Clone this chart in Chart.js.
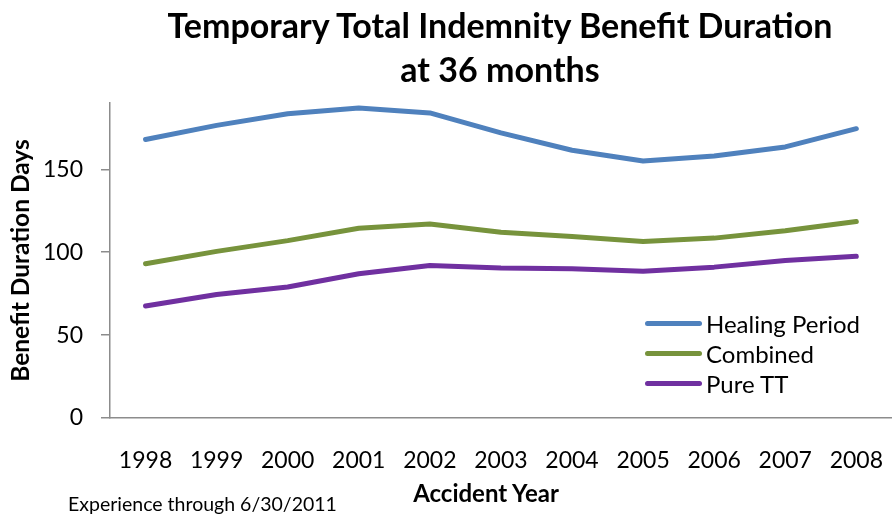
<!DOCTYPE html>
<html>
<head>
<meta charset="utf-8">
<script src="https://cdn.jsdelivr.net/npm/chart.js@4.4.1/dist/chart.umd.min.js"></script>
<style>
  html, body { margin: 0; padding: 0; background: #fff; }
  #wrap { position: relative; width: 896px; height: 515px; overflow: hidden; font-family: Lato, "Open Sans", sans-serif; color: #000; }
  #chart { position: absolute; left: 0; top: 0; }
  .title { position: absolute; left: 500px; transform: translateX(-50%); white-space: nowrap; font-weight: bold; font-size: 34px; line-height: 44px; text-align: center; }
  #xtitle { position: absolute; left: 486px; top: 478px; transform: translateX(-50%); font-weight: bold; font-size: 24px; white-space: nowrap; }
  #note { position: absolute; left: 68px; top: 492px; font-size: 19.5px; white-space: nowrap; }
  #legend { position: absolute; left: 645px; top: 308px; }
  .lg-row { height: 30px; display: flex; align-items: center; font-size: 24px; }
  .lg-line { width: 57px; height: 5px; border-radius: 3px; margin-right: 4px; }
</style>
</head>
<body>
<div id="wrap">
  <canvas id="chart" width="904" height="515"></canvas>
  <div class="title" style="top:3px">Temporary Total Indemnity Benefit Duration</div>
  <div class="title" style="top:47px">at 36 months</div>
  <div id="xtitle">Accident Year</div>
  <div id="note">Experience through 6/30/2011</div>
  <div id="legend"></div>
</div>
<script>
const years = ['1998', '1999', '2000', '2001', '2002', '2003', '2004', '2005', '2006', '2007', '2008'];
const healingPeriod = [168, 176.5, 183.5, 187, 184, 172, 161.5, 155, 158, 163.5, 174.5];
const combined = [93, 100.5, 107, 114.5, 117, 112, 109.5, 106.5, 108.5, 113, 118.5];
const pureTT = [67.5, 74.5, 79, 87, 92, 90.5, 90, 88.5, 91, 95, 97.5];
const yTicks = [0, 50, 100, 150];

const axisGray = '#8c8c8c';

function lineSet(label, values, color) {
    return {
        label: label,
        data: values,
        borderColor: color,
        backgroundColor: color,
        borderWidth: 5,
        tension: 0,
        pointRadius: 0,
        borderCapStyle: 'round',
        borderJoinStyle: 'round',
        fill: false
    };
}

const chart = new Chart(document.getElementById('chart'), {
    type: 'line',
    data: {
        labels: years,
        datasets: [
            lineSet('Healing Period', healingPeriod, '#4f81bd'),
            lineSet('Combined', combined, '#77933c'),
            lineSet('Pure TT', pureTT, '#7030a0')
        ]
    },
    options: {
        responsive: false,
        animation: false,
        layout: { padding: { top: 103, right: 0, bottom: 0, left: 0 } },
        plugins: {
            legend: { display: false },
            tooltip: { enabled: false }
        },
        scales: {
            x: {
                offset: true,
                grid: { display: false },
                border: { display: true, color: axisGray, width: 1.5 },
                ticks: { color: '#000', padding: 21, font: { family: 'Lato', size: 23 }, maxRotation: 0 },
                afterFit: scale => { scale.height = 97; }
            },
            y: {
                min: 0,
                max: 190,
                afterBuildTicks: scale => { scale.ticks = yTicks.map(v => ({ value: v })); },
                grid: { drawOnChartArea: false, drawTicks: true, tickLength: 9, color: axisGray, lineWidth: 1.5 },
                border: { display: true, color: axisGray, width: 1.5 },
                ticks: { color: '#000', padding: 18, font: { family: 'Lato', size: 23 } },
                title: {
                    display: true,
                    text: 'Benefit Duration Days',
                    color: '#000',
                    padding: { top: 6, bottom: 0 },
                    font: { family: 'Lato', size: 24.5, weight: 'bold' }
                },
                afterFit: scale => { scale.width = 110; }
            }
        }
    }
});

// legend inside the plot, like the original
const legendBox = document.getElementById('legend');
chart.data.datasets.forEach(ds => {
    const row = document.createElement('div');
    row.className = 'lg-row';
    const swatch = document.createElement('span');
    swatch.className = 'lg-line';
    swatch.style.background = ds.borderColor;
    const text = document.createElement('span');
    text.textContent = ds.label;
    row.appendChild(swatch);
    row.appendChild(text);
    legendBox.appendChild(row);
});
</script>
</body>
</html>
